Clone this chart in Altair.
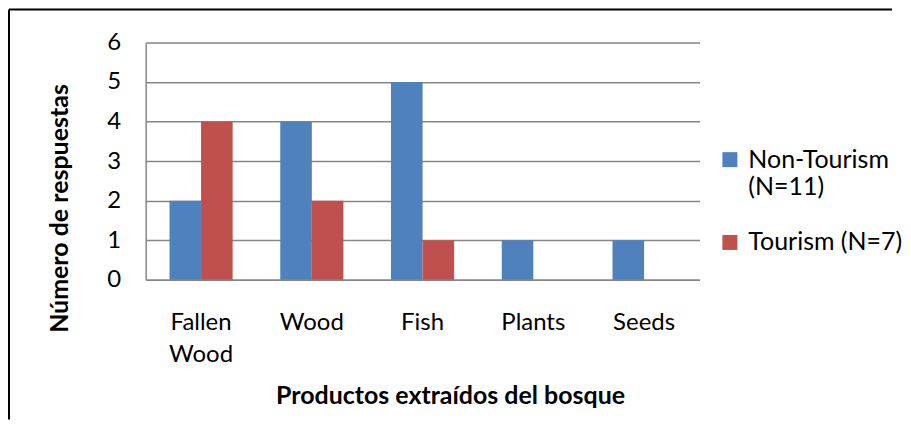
import altair as alt
import pandas as pd

categories = ["Fallen Wood", "Wood", "Fish", "Plants", "Seeds"]
series = ["Non-Tourism (N=11)", "Tourism (N=7)"]
non_tourism = [2, 4, 5, 1, 1]
tourism = [4, 2, 1, 0, 0]
y_ticks = [0, 1, 2, 3, 4, 5, 6]
colors = ["#4F81BD", "#C0504D"]

rows = []
for c, a, b in zip(categories, non_tourism, tourism):
    rows.append({"cat": c, "serie": series[0], "val": a})
    rows.append({"cat": c, "serie": series[1], "val": b})
df = pd.DataFrame(rows)

FONT = "Lato"
GRID = "#878787"

bars = alt.Chart(df).mark_bar(strokeWidth=0).encode(
    x=alt.X("cat:N", sort=categories,
            scale=alt.Scale(paddingInner=0.43, paddingOuter=0.215),
            axis=alt.Axis(title="Productos extraídos del bosque",
                          labelExpr="split(datum.label, ' ')",
                          labelAngle=0, labelFont=FONT, labelFontSize=24,
                          labelColor="#000000", labelBaseline="alphabetic",
                          labelPadding=50, labelLineHeight=32,
                          ticks=False, domainColor=GRID, domainWidth=1.5,
                          titleFont=FONT, titleFontSize=25, titleFontWeight="bold",
                          titleColor="#000000", titleBaseline="alphabetic",
                          titleX=305, titleY=124, titleAlign="center")),
    xOffset=alt.XOffset("serie:N", sort=series),
    y=alt.Y("val:Q", scale=alt.Scale(domain=[0, 6]),
            axis=alt.Axis(title="Número de respuestas", values=y_ticks,
                          labelFont=FONT, labelFontSize=24, labelColor="#000000",
                          labelPadding=25, ticks=False, grid=True,
                          gridColor=GRID, gridWidth=1.5,
                          domainColor=GRID, domainWidth=1.5,
                          titleFont=FONT, titleFontSize=25, titleFontWeight="bold",
                          titleColor="#000000", titleBaseline="alphabetic",
                          titleAngle=-90, titleX=-78, titleY=166,
                          titleAlign="center")),
    color=alt.Color("serie:N", sort=series,
                    scale=alt.Scale(domain=series, range=colors),
                    legend=alt.Legend(title=None, orient="none",
                                      legendX=573, legendY=105,
                                      symbolType="square", symbolSize=225,
                                      symbolStrokeWidth=0,
                                      labelFont=FONT, labelFontSize=25,
                                      labelColor="#000000", labelOffset=6,
                                      labelExpr="datum.label == 'Non-Tourism (N=11)' ? ['Non-Tourism', '(N=11)'] : datum.label",
                                      rowPadding=30, labelLimit=300)),
)

frame = pd.DataFrame({"k": [0]})
left_border = alt.Chart(frame).mark_rule(color="#000000", strokeWidth=2).encode(
    x=alt.value(-137), y=alt.value(-33), y2=alt.value(378))
top_border = alt.Chart(frame).mark_rule(color="#000000", strokeWidth=2).encode(
    y=alt.value(-33), x=alt.value(-137), x2=alt.value(748))

chart = alt.layer(bars, left_border, top_border).properties(
    width=555, height=238, padding=0, background="#ffffff"
).configure_view(stroke=None)

chart.save("out.html", embed_options={"renderer": "svg", "actions": False})
